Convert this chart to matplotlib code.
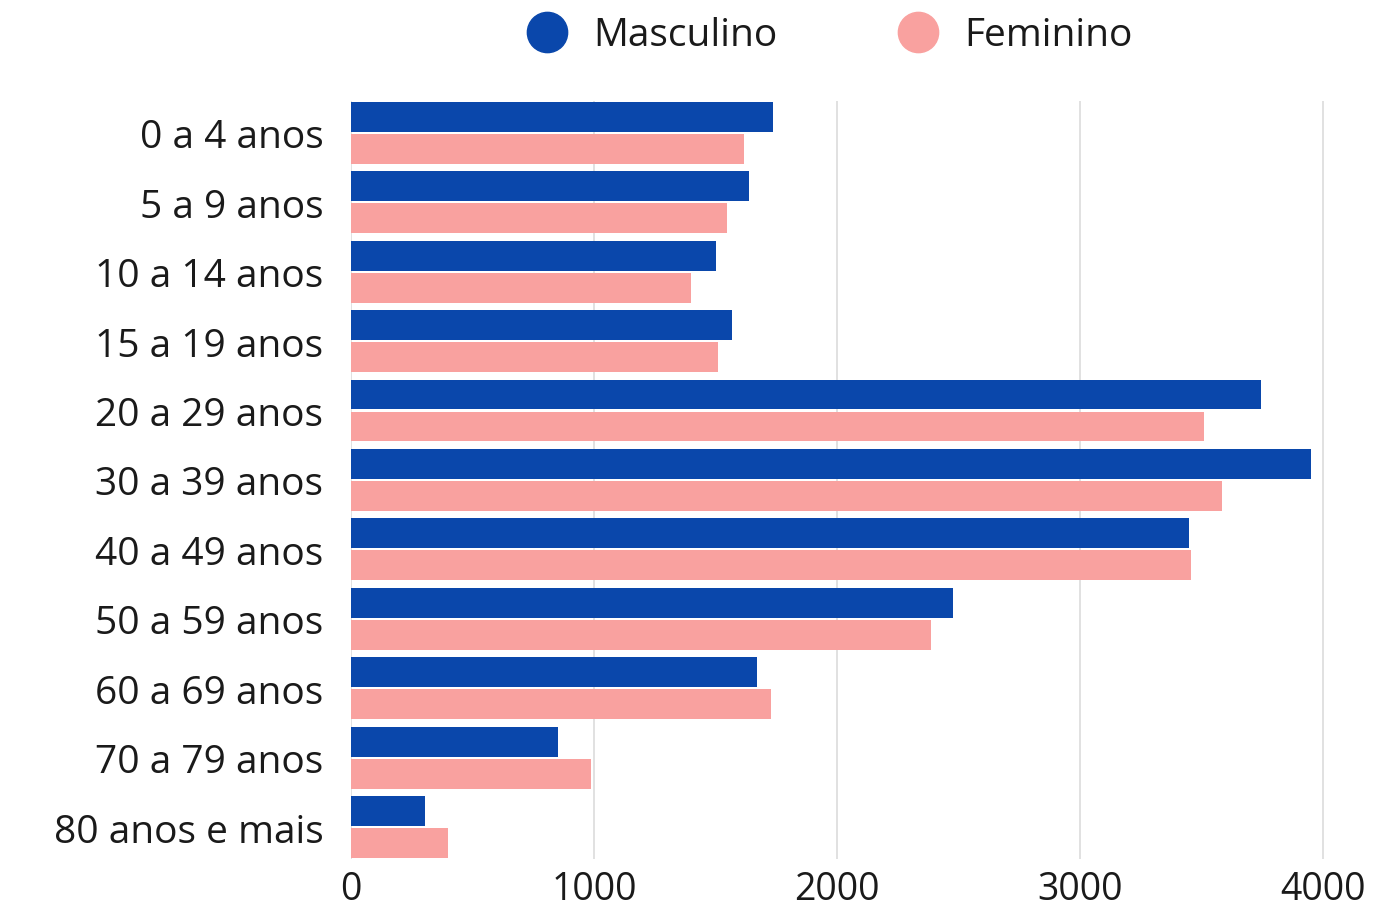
import matplotlib
matplotlib.use("Agg")
import matplotlib.pyplot as plt
from matplotlib.lines import Line2D
import numpy as np

categories = ["0 a 4 anos", "5 a 9 anos", "10 a 14 anos", "15 a 19 anos",
              "20 a 29 anos", "30 a 39 anos", "40 a 49 anos", "50 a 59 anos",
              "60 a 69 anos", "70 a 79 anos", "80 anos e mais"]
masculino = [1737, 1638, 1502, 1568, 3745, 3951, 3449, 2477, 1671, 852, 305]
feminino = [1617, 1547, 1399, 1510, 3510, 3584, 3457, 2387, 1728, 988, 399]
xticks = [0, 1000, 2000, 3000, 4000]
series_names = ["Masculino", "Feminino"]

BLUE = "#0a47ab"
PINK = "#f9a19f"
FONT = ["Open Sans", "DejaVu Sans"]
plt.rcParams["font.family"] = FONT

fig = plt.figure(figsize=(13.81, 9.12), dpi=100)
ax = fig.add_axes([0.2542, 0.0570, 0.716, 0.8313])

y = np.arange(len(categories))
h = 0.43
off = 0.23
ax.barh(y - off, masculino, height=h, color=BLUE, zorder=3)
ax.barh(y + off, feminino, height=h, color=PINK, zorder=3)

ax.set_ylim(10.46, -0.46)
ax.set_xlim(0, 4070)
ax.set_yticks(y)
ax.set_yticklabels(categories, fontsize=28, color="#1a1a1a")
ax.set_xticks(xticks)
ax.set_xticklabels([str(v) for v in xticks], fontsize=27, color="#1a1a1a")
ax.tick_params(axis="y", length=0, pad=20)
ax.tick_params(axis="x", length=0, pad=8)
ax.grid(axis="x", color="#dcdcdc", linewidth=1.2, zorder=0)
for s in ax.spines.values():
    s.set_visible(False)

handles = [Line2D([], [], marker="o", linestyle="", markersize=29, color=BLUE),
           Line2D([], [], marker="o", linestyle="", markersize=29, color=PINK)]
fig.legend(handles, series_names, loc="center", bbox_to_anchor=(0.594, 0.960),
           ncol=2, frameon=False, fontsize=28, handletextpad=0.2,
           columnspacing=2.6, labelcolor="#1a1a1a")

fig.savefig("out.png", dpi=100)
